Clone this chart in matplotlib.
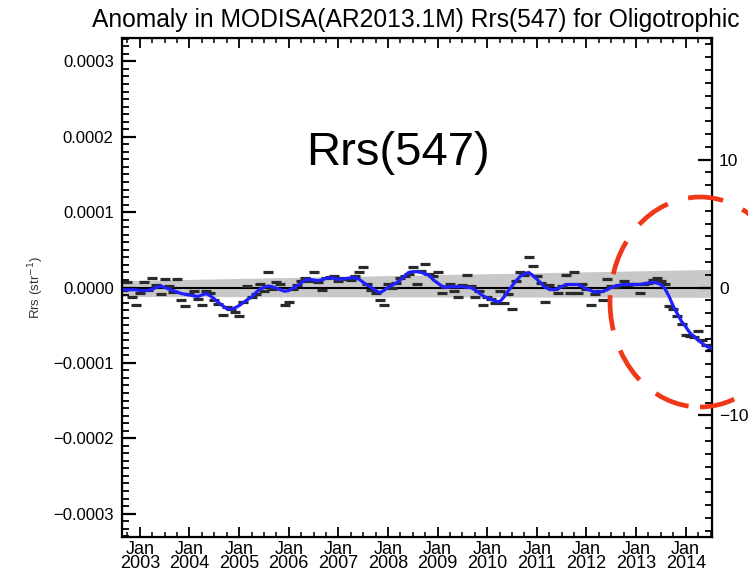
import numpy as np
import matplotlib
matplotlib.use("Agg")
import matplotlib.pyplot as plt
from matplotlib.patches import Ellipse
from matplotlib.ticker import MultipleLocator, FixedLocator

plt.rcParams['font.family'] = ['Liberation Sans', 'DejaVu Sans']

# ---- data (units of 1e-5 sr^-1), monthly from Sep 2002 to Jul 2014 ----
start_year, start_month = 2002, 9
smooth = [-0.3, -0.3, -0.3, -0.3, -0.4, -0.4, -0.4, -0.2, 0.0, 0.2,
          0.0, -0.2, -0.4, -0.6, -0.8, -0.9, -1.0, -1.1, -1.2, -1.0,
          -0.8, -1.1, -1.5, -2.0, -2.4, -2.8, -2.9, -2.7, -2.4, -2.0,
          -1.6, -1.3, -0.7, -0.2, 0.0, 0.2, 0.1, -0.1, -0.3, -0.5,
          -0.4, -0.1, 0.2, 0.6, 1.0, 1.1, 1.0, 0.9, 1.0, 1.2,
          1.3, 1.2, 1.1, 1.1, 1.2, 1.3, 1.3, 1.1, 0.7, 0.3,
          0.0, -0.4, -0.7, -0.4, 0.0, 0.3, 0.6, 1.0, 1.5, 2.0,
          2.1, 2.1, 2.0, 1.8, 1.6, 1.0, 0.6, 0.2, 0.0, 0.1,
          0.1, 0.1, 0.1, 0.0, 0.0, -0.3, -0.7, -1.1, -1.4, -1.6,
          -1.8, -1.9, -1.3, -0.5, 0.2, 0.9, 1.5, 1.8, 2.0, 1.6,
          1.1, 0.6, 0.0, -0.2, -0.3, -0.2, 0.1, 0.4, 0.4, 0.4,
          0.4, 0.1, -0.2, -0.4, -0.6, -0.6, -0.5, -0.3, 0.0, 0.2,
          0.3, 0.4, 0.4, 0.4, 0.4, 0.4, 0.5, 0.6, 0.7, 0.6,
          0.4, -0.2, -1.2, -2.5, -3.5, -4.5, -5.2, -6.0, -6.5, -7.0,
          -7.4, -7.8, -8.0]
monthly = [-0.3, 0.7, -1.2, -2.3, -0.7, 0.7, -0.3, 1.3, 0.3, -0.9,
           1.1, 0.2, -0.6, 1.1, -1.6, -2.5, -0.8, -0.5, -1.5, -2.3,
           -0.5, -0.7, -1.6, -2.2, -3.6, -2.6, -2.9, -3.2, -3.8, -1.9,
           0.2, -1.2, -0.9, 0.4, -0.5, 2.1, -0.2, 0.7, 0.5, -2.3,
           -1.9, -0.2, 0.3, 0.8, 1.2, 0.9, 2.0, 0.7, -0.3, 1.3,
           1.4, 1.5, 0.9, 1.3, 1.1, 1.0, 1.5, 2.0, 2.7, 0.5,
           -0.3, -0.7, -1.6, -2.3, 0.4, 0.0, 0.6, 1.3, 1.5, 1.8,
           2.7, 0.4, 2.2, 3.1, 1.8, 1.5, 2.1, -0.7, 0.1, 0.4,
           -0.5, -1.3, 0.3, 1.7, 0.2, -1.2, -0.4, -2.3, -1.2, -1.5,
           -2.0, -0.5, -2.0, -0.8, -2.9, 0.8, 2.0, 1.6, 4.0, 2.8,
           1.5, 0.6, -1.9, 0.3, -0.2, -0.7, 0.2, 1.7, -0.7, 2.0,
           -0.7, 0.4, -0.2, -2.3, -0.8, -0.4, -1.6, 1.1, 0.2, 0.1,
           0.3, 0.8, 0.3, 0.5, 0.4, -0.7, 0.5, 0.6, 1.0, 1.3,
           0.8, 0.4, -2.5, -2.8, -3.8, -4.9, -6.3, -6.5, -6.6, -5.8,
           -6.9, -7.6, -8.3]
band_years = [2002.6, 2014.55]
band_upper = [0.9, 2.4]
band_lower = [-1.2, -1.3]

years = list(range(2003, 2015))
tick_labels = ["Jan\n%d" % y for y in years]
ytick_vals = [-0.0003, -0.0002, -0.0001, 0, 0.0001, 0.0002, 0.0003]
ytick_labels = ["\u22120.0003", "\u22120.0002", "\u22120.0001", "0.0000",
                "0.0001", "0.0002", "0.0003"]
rtick_vals = [-10, 0, 10]
rtick_labels = ["\u221210", "0", "10"]

scale = 1e-5
n = len(smooth)
t = np.array([start_year + (start_month - 1 + i) / 12.0 for i in range(n)])
smooth_v = np.array(smooth) * scale
monthly_v = np.array(monthly) * scale

W, H = 748, 574
fig = plt.figure(figsize=(W/100, H/100), dpi=100)
L, R, T, B = 122, 712, 38, 537
ax = fig.add_axes([L/W, 1-B/H, (R-L)/W, (B-T)/H])

ax.set_xlim(2002.64, 2014.53)
ax.set_ylim(-0.000331, 0.000331)

bt = np.linspace(band_years[0], band_years[1], 50)
ax.fill_between(bt, np.interp(bt, band_years, band_upper) * scale,
                np.interp(bt, band_years, band_lower) * scale,
                color='#c8c8c8', lw=0, zorder=1)
ax.axhline(0, color='black', lw=1.5, zorder=2)
ax.plot(t, monthly_v, ls='none', marker='_', ms=6.5, mew=2.3, color='#2a2a2a', zorder=3)
ax.plot(t, smooth_v, color='#1f1fff', lw=2.3, zorder=4)

# ticks
ax.xaxis.set_major_locator(FixedLocator(years))
ax.xaxis.set_minor_locator(MultipleLocator(0.25))
ax.set_xticklabels(tick_labels, fontsize=13, linespacing=0.78)
ax.yaxis.set_minor_locator(MultipleLocator(0.00001))
ax.set_yticks(ytick_vals)
ax.set_yticklabels(ytick_labels, fontsize=12)
ax.tick_params(axis='both', which='both', direction='in', top=True, right=False,
               color='black')
ax.tick_params(axis='x', which='major', length=7, width=1.3, pad=3)
ax.tick_params(axis='x', which='minor', length=3.5, width=1.1)
ax.tick_params(axis='y', which='major', length=10, width=1.6, pad=6)
ax.tick_params(axis='y', which='minor', length=5, width=1.3)
for s in ax.spines.values():
    s.set_linewidth(1.6)
ax.set_ylabel("Rrs (str$^{-1}$)", fontsize=9.5, color='#333333', labelpad=5)

# right axis (percent)
ax2 = ax.twinx()
ax2.set_ylim(-19.5, 19.5)
ax2.yaxis.set_major_locator(FixedLocator(rtick_vals))
ax2.yaxis.set_minor_locator(MultipleLocator(1))
ax2.set_yticklabels(rtick_labels, fontsize=12.5)
ax2.tick_params(axis='y', which='major', direction='in', length=10, width=1.6, pad=5)
ax2.tick_params(axis='y', which='minor', direction='in', length=5, width=1.3)

title = fig.text(416/W, 1-27/H, "Anomaly in MODISA(AR2013.1M) Rrs(547) for Oligotrophic",
                 ha='center', va='baseline', fontsize=17)
# fit title width to the reference span
fig.canvas.draw()
w = title.get_window_extent().width
title.set_fontsize(17 * 650 / w)

fig.text(398/W, 1-153/H, "Rrs(547)", ha='center', va='center', fontsize=34)

ell = Ellipse((700/W, 1-302/H), width=180/W, height=210/H,
              transform=fig.transFigure, fill=False, edgecolor='#f03818',
              lw=3.4, linestyle=(0, (7.5, 4.5)), zorder=10, clip_on=False)
fig.add_artist(ell)

fig.savefig("out.png", dpi=100)
